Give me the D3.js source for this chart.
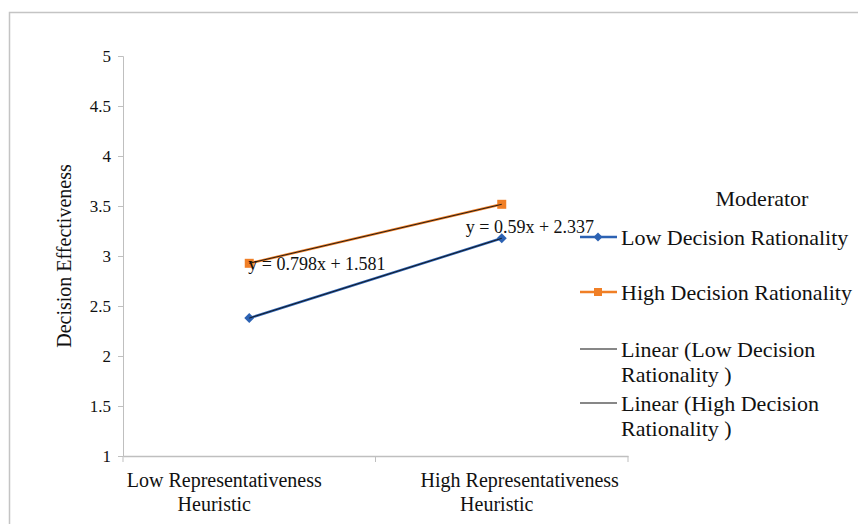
<!DOCTYPE html>
<html>
<head>
<meta charset="utf-8">
<script src="https://cdn.jsdelivr.net/npm/d3@7"></script>
<style>
  html, body { margin: 0; padding: 0; background: #fff; }
  svg { display: block; font-family: "Liberation Serif", "Times New Roman", serif; }
</style>
</head>
<body>
<svg id="chart" width="858" height="524"></svg>
<script>
// ---- data ----
const categories = ["Low Representativeness Heuristic", "High Representativeness Heuristic"];
const lowRationality = [2.379, 3.177];
const highRationality = [2.927, 3.517];
const seriesNames = ["Low Decision Rationality", "High Decision Rationality"];
const trendNames = ["Linear (Low Decision Rationality )", "Linear (High Decision Rationality )"];
const equations = ["y = 0.798x + 1.581", "y = 0.59x + 2.337"];
const yTicks = [1, 1.5, 2, 2.5, 3, 3.5, 4, 4.5, 5];
const legendTitle = "Moderator";
const yTitle = "Decision Effectiveness";

// ---- layout ----
const svg = d3.select("#chart");
const mLeft = 123, mRight = 628, mTop = 56, mBottom = 456;
const blue = "#2c62b3", orange = "#f07f26", axisGray = "#bfbfbf";

// frame
svg.append("rect").attr("x", 9.5).attr("y", 12.5).attr("width", 900).attr("height", 600)
  .attr("fill", "none").attr("stroke", "#c4c4c4").attr("stroke-width", 1.5);

const x = d3.scaleBand().domain(categories).range([mLeft, mRight]);
const y = d3.scaleLinear().domain([1, 5]).range([mBottom, mTop]);
const cx = c => x(c) + x.bandwidth() / 2;

// y axis (lines from d3 axis, labels drawn in serif)
const yAxis = svg.append("g").attr("transform", `translate(${mLeft},0)`)
  .call(d3.axisLeft(y).tickValues(yTicks).tickSize(5).tickFormat(""));
yAxis.select(".domain").attr("stroke", axisGray);
yAxis.selectAll(".tick line").attr("stroke", axisGray);
yAxis.selectAll(".tick text").remove();
svg.append("g").selectAll("text").data(yTicks).join("text")
  .attr("x", mLeft - 12).attr("y", d => y(d)).attr("dy", "0.35em")
  .attr("text-anchor", "end").attr("font-size", 17).attr("fill", "#111")
  .text(d => d3.format("")(d));

// x axis
const xAxis = svg.append("g").attr("transform", `translate(0,${mBottom})`)
  .call(d3.axisBottom(x).tickSize(0).tickFormat(""));
xAxis.select(".domain").attr("stroke", axisGray).attr("stroke-width", 1.3);
xAxis.selectAll(".tick").remove();
// boundary ticks
const bounds = [mLeft, ...categories.map(c => x(c) + x.bandwidth())];
svg.append("g").selectAll("line").data(bounds).join("line")
  .attr("x1", d => d).attr("x2", d => d).attr("y1", mBottom).attr("y2", mBottom + 6)
  .attr("stroke", axisGray);

// x labels (two lines each)
const lineOffsets = [[-25, -35], [18, -5]];
categories.forEach((c, i) => {
  const parts = [c.replace(/ Heuristic$/, ""), "Heuristic"];
  const t = svg.append("text").attr("text-anchor", "middle").attr("font-size", 20).attr("fill", "#111");
  parts.forEach((p, j) => {
    t.append("tspan").attr("x", cx(c) + lineOffsets[i][j]).attr("y", mBottom + 31 + j * 24).text(p);
  });
});

// y title
svg.append("text").attr("transform", `translate(71,${(mTop + mBottom) / 2}) rotate(-90)`)
  .attr("text-anchor", "middle").attr("font-size", 20).attr("fill", "#111").text(yTitle);

// series lines
const line = d3.line().x((d, i) => cx(categories[i])).y(d => y(d));
svg.append("path").datum(lowRationality).attr("d", line).attr("fill", "none").attr("stroke", blue).attr("stroke-width", 2.5);
svg.append("path").datum(highRationality).attr("d", line).attr("fill", "none").attr("stroke", orange).attr("stroke-width", 2.5);

// markers
const diamond = d3.symbol(d3.symbolSquare, 50);
svg.append("g").selectAll("path").data(lowRationality).join("path")
  .attr("transform", (d, i) => `translate(${cx(categories[i])},${y(d)}) rotate(45)`)
  .attr("d", diamond).attr("fill", blue);
svg.append("g").selectAll("rect").data(highRationality).join("rect")
  .attr("x", (d, i) => cx(categories[i]) - 4.5).attr("y", d => y(d) - 4.5)
  .attr("width", 9).attr("height", 9).attr("fill", orange);

// trend lines (thin black)
[lowRationality, highRationality].forEach(s => {
  svg.append("path").datum(s).attr("d", line).attr("fill", "none").attr("stroke", "#111").attr("stroke-width", 0.9);
});

// equation labels
svg.append("text").attr("x", cx(categories[0]) - 1).attr("y", y(highRationality[0]) + 7)
  .attr("font-size", 18).attr("fill", "#111").text(equations[0]);
svg.append("text").attr("x", cx(categories[1]) - 36).attr("y", y(lowRationality[1]) - 5)
  .attr("font-size", 18).attr("fill", "#111").text(equations[1]);

// legend
const lg = svg.append("g").attr("font-size", 22).attr("fill", "#111");
lg.append("text").attr("x", 762).attr("y", 198).attr("dy", "0.35em").attr("text-anchor", "middle").text(legendTitle);
const items = [
  { name: seriesNames[0], color: blue, marker: "diamond", ys: [237] },
  { name: seriesNames[1], color: orange, marker: "square", ys: [292] },
  { name: trendNames[0], color: "#111", marker: null, ys: [349, 374] },
  { name: trendNames[1], color: "#111", marker: null, ys: [403, 428] }
];
items.forEach(it => {
  const ly = it.ys[0];
  lg.append("line").attr("x1", 580).attr("x2", 617).attr("y1", ly).attr("y2", ly)
    .attr("stroke", it.color).attr("stroke-width", it.marker ? 2.5 : 1.2);
  if (it.marker === "diamond") {
    lg.append("path").attr("transform", `translate(598,${ly}) rotate(45)`).attr("d", d3.symbol(d3.symbolSquare, 40)).attr("fill", it.color);
  } else if (it.marker === "square") {
    lg.append("rect").attr("x", 594).attr("y", ly - 4).attr("width", 8).attr("height", 8).attr("fill", it.color);
  }
  let lines;
  if (it.ys.length === 2) {
    const m = it.name.indexOf(" Rationality");
    lines = [it.name.slice(0, m), it.name.slice(m + 1)];
  } else lines = [it.name];
  lines.forEach((l, j) => {
    lg.append("text").attr("x", 621).attr("y", it.ys[j]).attr("dy", "0.35em").text(l);
  });
});
</script>
</body>
</html>
